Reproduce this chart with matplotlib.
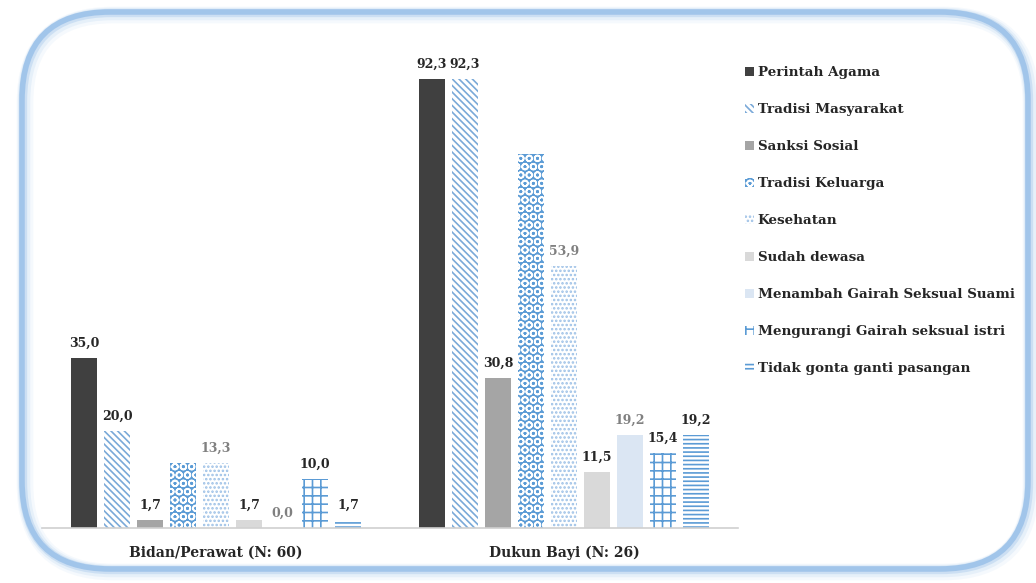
import matplotlib
matplotlib.use("Agg")
import matplotlib.pyplot as plt
from matplotlib.patches import FancyBboxPatch, Patch
import numpy as np

categories = ["Bidan/Perawat (N: 60)", "Dukun Bayi (N: 26)"]
series = ["Perintah Agama", "Tradisi Masyarakat", "Sanksi Sosial", "Tradisi Keluarga",
          "Kesehatan", "Sudah dewasa", "Menambah Gairah Seksual Suami",
          "Mengurangi Gairah seksual istri", "Tidak gonta ganti pasangan"]
bidan = [35.0, 20.0, 1.7, 13.3, 13.3, 1.7, 0.0, 10.0, 1.7]
dukun = [92.3, 92.3, 30.8, 76.9, 53.9, 11.5, 19.2, 15.4, 19.2]
show_label = [True, True, True, False, True, True, True, True, True]

styles = [
    dict(facecolor="#404040", edgecolor="#404040", hatch=None),
    dict(facecolor="white", edgecolor="#7aa9d8", hatch="\\\\\\\\\\"),
    dict(facecolor="#a5a5a5", edgecolor="#a5a5a5", hatch=None),
    dict(facecolor="#5b9bd5", edgecolor="white", hatch="OO"),
    dict(facecolor="white", edgecolor="#9cc0e6", hatch="...."),
    dict(facecolor="#d9d9d9", edgecolor="#d9d9d9", hatch=None),
    dict(facecolor="#dbe6f3", edgecolor="#dbe6f3", hatch=None),
    dict(facecolor="white", edgecolor="#5b9bd5", hatch="++"),
    dict(facecolor="white", edgecolor="#5b9bd5", hatch="----"),
]
label_colors = ["#262626", "#262626", "#262626", "#262626", "#808080",
                "#262626", "#808080", "#262626", "#262626"]

plt.rcParams["font.family"] = ["DejaVu Serif"]
plt.rcParams["hatch.linewidth"] = 1.2

W, H = 1036, 583
fig = plt.figure(figsize=(W / 100, H / 100), dpi=100)

# rounded glowing border (soft shadow to lower right)
for dx, dy, lw, a in [(3, -3, 12, 0.07), (2, -2, 9, 0.12), (1, -1, 6, 0.25), (0, 0, 4, 0.55)]:
    box = FancyBboxPatch(((22 + dx) / W, (14 + dy) / H), 1006 / W, 557 / H,
                         boxstyle="round,pad=0,rounding_size=0.085",
                         transform=fig.transFigure, facecolor="none",
                         edgecolor="#7fb0e3", linewidth=lw, alpha=a,
                         mutation_aspect=W / H)
    fig.patches.append(box)

ax = fig.add_axes([42 / W, (H - 528) / H, 696 / W, 486 / H])
ax.set_facecolor("none")
x = np.arange(len(categories))
pitch = 33 / 348
bw = 26 / 348
n = len(series)
for i in range(n):
    vals = [bidan[i], dukun[i]]
    pos = x + (i - (n - 1) / 2) * pitch
    st = styles[i]
    bars = ax.bar(pos, vals, bw, facecolor=st["facecolor"], edgecolor=st["edgecolor"],
                  hatch=st["hatch"], linewidth=0, label=series[i])
    if show_label[i]:
        for b, v in zip(bars, vals):
            ax.annotate(f"{v:.1f}".replace(".", ","), (b.get_x() + b.get_width() / 2, v),
                        xytext=(0, 6), textcoords="offset points", ha="center", va="bottom",
                        fontsize=9, fontweight="bold", color=label_colors[i])

ax.set_xlim(-0.5, 1.5)
ax.set_ylim(0, 100)
for s in ["top", "right", "left"]:
    ax.spines[s].set_visible(False)
ax.spines["bottom"].set_color("#d0d0d0")
ax.spines["bottom"].set_linewidth(1.2)
ax.set_yticks([])
ax.set_xticks(x)
ax.set_xticklabels(categories, fontsize=10, fontweight="bold", color="#262626")
ax.tick_params(axis="x", length=0, pad=13)

handles = [Patch(facecolor=st["facecolor"], edgecolor=st["edgecolor"], hatch=st["hatch"],
                 linewidth=0) for st in styles]
leg = fig.legend(handles, series, loc="upper left", bbox_to_anchor=(740 / W, 1 - 61 / H),
                 frameon=False, fontsize=9.7, handlelength=0.65, handleheight=0.65,
                 handletextpad=0.25, labelspacing=1.78, borderaxespad=0)
for t in leg.get_texts():
    t.set_fontweight("bold")
    t.set_color("#262626")

fig.savefig("out.png", dpi=100)
